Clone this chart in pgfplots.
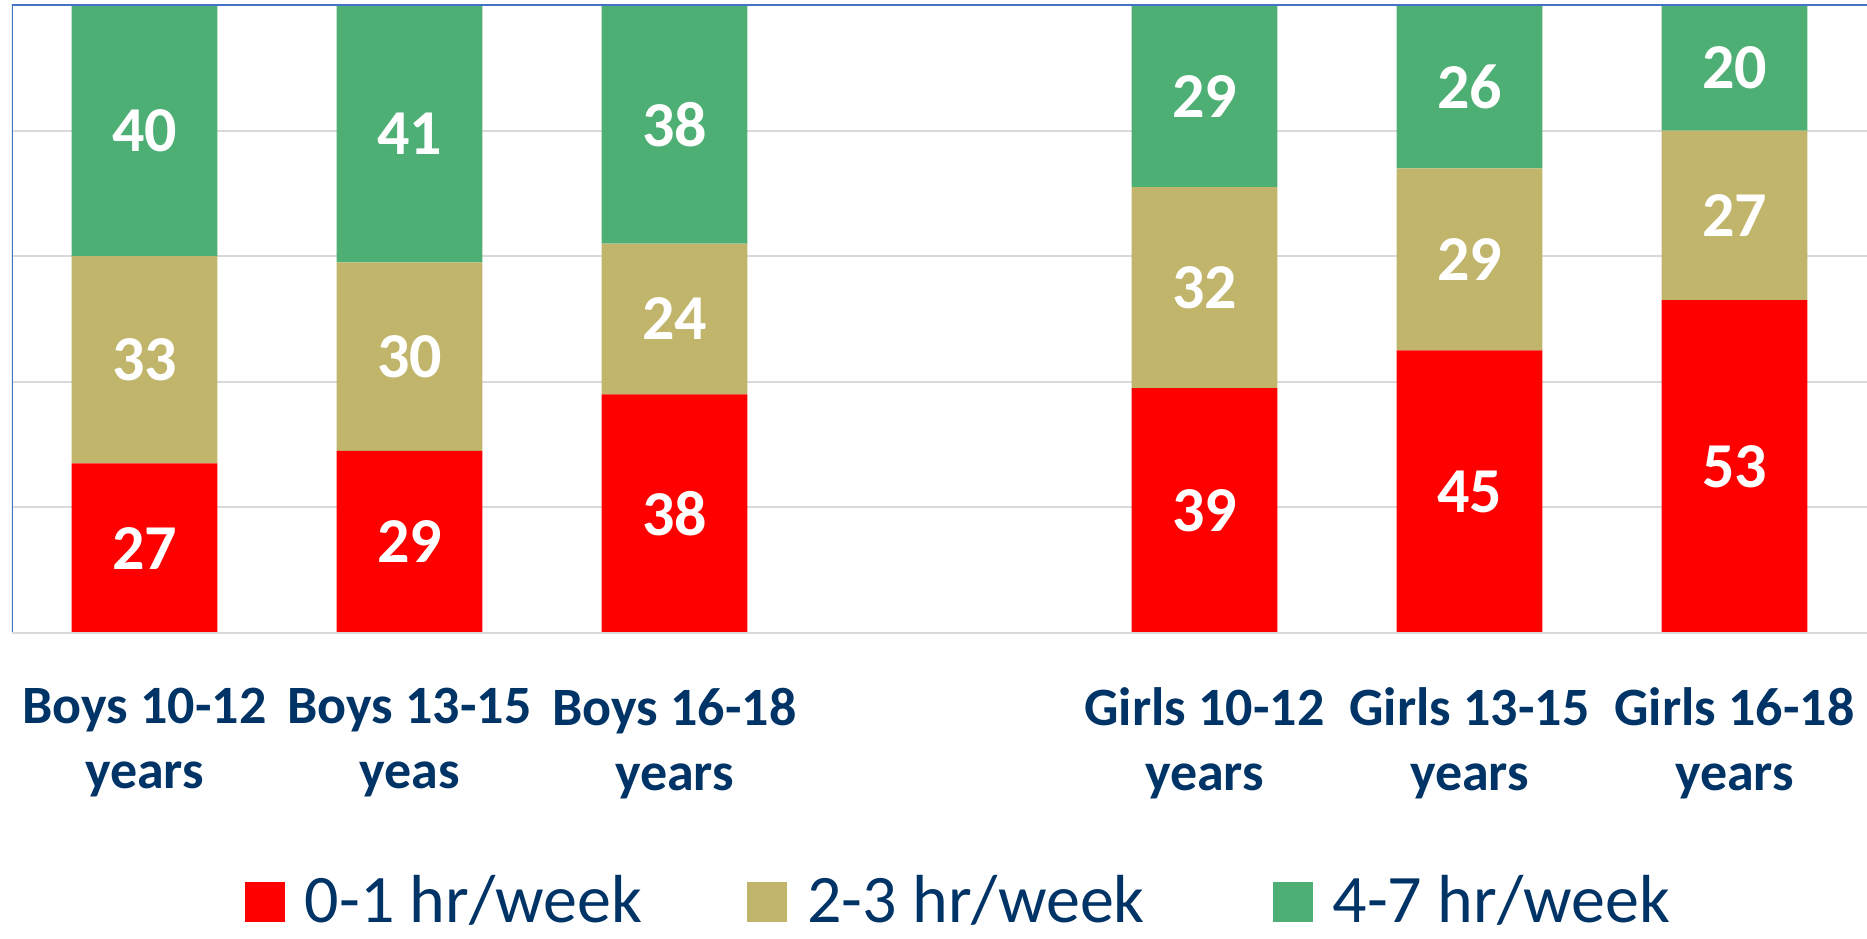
\documentclass[border=0pt]{standalone}
\usepackage{fontspec}
\setmainfont{Carlito}
\usepackage{pgfplots}
\pgfplotsset{compat=1.18}
\definecolor{cred}{HTML}{FF0000}
\definecolor{ctan}{HTML}{C1B56B}
\definecolor{cgreen}{HTML}{4DAF74}
\definecolor{navy}{HTML}{003366}
\definecolor{axblue}{HTML}{4472C4}
\definecolor{gridgray}{HTML}{D9D9D9}
\begin{document}
\begin{tikzpicture}
\useasboundingbox (0,0) rectangle (933.5pt,469pt);
\begin{axis}[
  at={(6pt,152.5pt)}, anchor=south west,
  scale only axis, width=927.5pt, height=314pt,
  /pgf/number format/assume math mode=true,
  ybar stacked, bar width=0.55,
  xmin=-0.5, xmax=6.5, ymin=0, ymax=100,
  xtick={0,1,2,4,5,6},
  xticklabels={{Boys 10-12\\years},{Boys 13-15\\yeas},{Boys 16-18\\years},{Girls 10-12\\years},{Girls 13-15\\years},{Girls 16-18\\years}},
  xticklabel style={align=center, font=\fontsize{27}{32.5}\selectfont\bfseries, text=navy, anchor=north, yshift=-24pt},
  major tick length=0pt,
  ytick={20,40,60,80},
  yticklabels={},
  ymajorgrids, grid style={gridgray, line width=1pt},
  axis line style={draw=none},
  point meta=explicit,
  nodes near coords,
  every node near coord/.append style={anchor=center, text=white, font=\fontsize{32}{32}\selectfont\bfseries},
  legend columns=3,
  legend style={draw=none, inner sep=0pt, at={(0.1253,-0.4252)}, anchor=west, font=\fontsize{34}{34}\selectfont, text=navy,
    nodes={inner sep=0pt},
    /tikz/column 1/.style={column sep=10pt},
    /tikz/column 2/.style={column sep=52.5pt},
    /tikz/column 3/.style={column sep=10pt},
    /tikz/column 4/.style={column sep=64pt},
    /tikz/column 5/.style={column sep=10pt}},
  legend image code/.code={\fill[#1] (0pt,-11pt) rectangle (20pt,9pt);},
]
\draw[gridgray, line width=1pt] (rel axis cs:0,0) -- (rel axis cs:1,0);
\draw[axblue, line width=1pt] (rel axis cs:0,0) -- (rel axis cs:0,1) -- (rel axis cs:1,1);
\addplot[fill=cred, draw=none] table[x=x, y=v, meta=v] {
x v
0 27
1 29
2 38
4 39
5 45
6 53
};
\addplot[fill=ctan, draw=none] table[x=x, y=v, meta=v] {
x v
0 33
1 30
2 24
4 32
5 29
6 27
};
\addplot[fill=cgreen, draw=none] table[x=x, y=v, meta=v] {
x v
0 40
1 41
2 38
4 29
5 26
6 20
};
\legend{0-1 hr/week, 2-3 hr/week, 4-7 hr/week}
\end{axis}
\end{tikzpicture}
\end{document}
